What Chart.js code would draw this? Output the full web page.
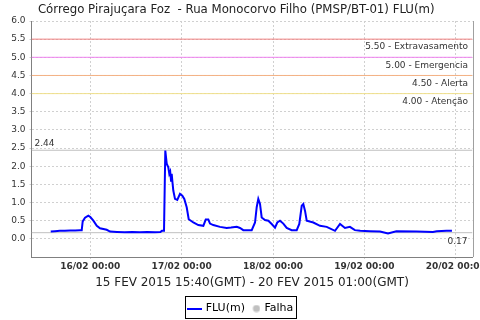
<!DOCTYPE html>
<html>
<head>
<meta charset="utf-8">
<script src="https://cdn.jsdelivr.net/npm/chart.js@4.4.1/dist/chart.umd.min.js"></script>
<style>
html,body{margin:0;padding:0;background:#fff;}
#wrap{width:480px;height:320px;position:relative;}
</style>
</head>
<body>
<div id="wrap"><canvas id="c" width="480" height="320"></canvas></div>
<script>
// ---- data (hours relative to 16/02/2015 00:00 GMT) ----
const titleText = 'Córrego Pirajuçara Foz  - Rua Monocorvo Filho (PMSP/BT-01) FLU(m)';
const rangeText = '15 FEV 2015 15:40(GMT) - 20 FEV 2015 01:00(GMT)';
const seriesName = 'FLU(m)';
const failName = 'Falha';

const hours = [-10.4,-9.3,-8.0,-6.7,-5.3,-4.0,-2.7,-2.26,-2.0,-1.39,-0.53,0.0,0.8,1.7,2.55,4.3,5.2,7.0,9.0,11.0,13.0,15.0,17.0,18.4,18.8,19.36,19.7,20.07,20.49,20.75,20.99,21.2,21.38,21.59,21.8,22.25,22.85,23.56,24.17,24.69,25.32,25.85,27.06,28.37,29.69,30.32,31.0,31.45,32.31,34.07,35.83,36.96,38.46,39.33,40.19,42.4,43.27,43.71,44.13,44.58,45.02,45.89,46.76,47.65,48.52,49.12,49.83,50.7,51.59,52.91,54.22,54.9,55.54,55.96,56.41,56.85,58.58,60.34,62.1,64.28,65.6,66.9,68.2,69.5,70.9,73.5,76.1,78.2,80.4,85.7,90.0,91.0,93.6,95.0];
const flu   = [0.20,0.21,0.22,0.22,0.23,0.23,0.24,0.24,0.48,0.58,0.64,0.60,0.50,0.36,0.29,0.25,0.20,0.19,0.18,0.19,0.18,0.19,0.18,0.19,0.22,0.22,2.43,2.07,1.97,1.79,1.85,1.60,1.79,1.55,1.33,1.10,1.07,1.24,1.19,1.10,0.87,0.54,0.45,0.38,0.36,0.53,0.53,0.42,0.38,0.33,0.30,0.31,0.33,0.30,0.24,0.24,0.45,0.87,1.10,0.96,0.59,0.52,0.50,0.41,0.31,0.45,0.50,0.42,0.30,0.24,0.24,0.41,0.91,0.96,0.77,0.50,0.45,0.36,0.33,0.22,0.41,0.30,0.33,0.24,0.22,0.21,0.20,0.15,0.21,0.20,0.19,0.21,0.22,0.22];

const xTickHours  = [0, 24, 48, 72, 96];
const xTickLabels = ['16/02 00:00','17/02 00:00','18/02 00:00','19/02 00:00','20/02 00:00'];
const yTickValues = [0,0.5,1,1.5,2,2.5,3,3.5,4,4.5,5,5.5,6];

const thresholdValues = [5.5, 5.0, 4.5, 4.0];
const thresholdLabels = ['5.50 - Extravasamento','5.00 - Emergencia','4.50 - Alerta','4.00 - Atenção'];
const maxValue  = 2.44;
const lastValue = 0.17;

// ---- styles ----
const thresholdColors = ['#f08080','#ee82ee','#f4b183','#f0e08c'];
const X_MIN = -15.45, X_MAX = 100.4, Y_MIN = -0.5, Y_MAX = 6.0;
const FONT = 'DejaVu Sans';

function hLine(v, color) {
  return { data: [{x: X_MIN, y: v}, {x: X_MAX, y: v}], borderColor: color, borderWidth: 1,
           pointRadius: 0, fill: false, order: 5 };
}

const datasets = [{
  label: seriesName,
  data: hours.map((h, i) => ({x: h, y: flu[i]})),
  borderColor: '#0000ff', backgroundColor: '#0000ff', borderWidth: 2,
  pointRadius: 0, tension: 0, order: 0
}];
thresholdValues.forEach((v, i) => datasets.push(hLine(v, thresholdColors[i])));
datasets.push(hLine(maxValue, '#c0c0c0'));
datasets.push(hLine(lastValue, '#c0c0c0'));

// legend images
function lineImg() {
  const c = document.createElement('canvas'); c.width = 15; c.height = 2;
  const g = c.getContext('2d'); g.fillStyle = '#0000ff'; g.fillRect(0, 0, 15, 2); return c;
}
function dotImg() {
  const c = document.createElement('canvas'); c.width = 14; c.height = 8;
  const g = c.getContext('2d'); g.fillStyle = '#c0c0c0'; g.beginPath(); g.arc(10, 4, 3.6, 0, Math.PI*2); g.fill(); return c;
}

const labelsPlugin = {
  id: 'refLabels',
  afterDatasetsDraw(chart) {
    const {ctx, chartArea: a, scales: {y}} = chart;
    ctx.save();
    ctx.font = '9px "' + FONT + '"';
    ctx.fillStyle = '#333';
    ctx.textBaseline = 'middle';
    ctx.textAlign = 'right';
    thresholdValues.forEach((v, i) => {
      ctx.fillText(thresholdLabels[i], a.right - 4.5, y.getPixelForValue(v) + 8);
    });
    ctx.fillText(lastValue.toFixed(2), a.right - 5, y.getPixelForValue(lastValue) + 9);
    ctx.textAlign = 'left';
    ctx.fillText(maxValue.toFixed(2), a.left + 3, y.getPixelForValue(maxValue) - 6.5);
    ctx.strokeStyle = '#a0a0a0'; ctx.lineWidth = 1;
    ctx.beginPath(); ctx.moveTo(Math.round(a.right) + 0.5, a.top); ctx.lineTo(Math.round(a.right) + 0.5, a.bottom); ctx.stroke();
    ctx.restore();
  },
  afterLayout(chart) {
    const l = chart.legend; l.top += 4; l.bottom += 4; l.left += 5; l.right += 5;
  },
  afterDraw(chart) {
    const l = chart.legend; const hb = l.legendHitBoxes;
    if (!hb || !hb.length) return;
    const ctx = chart.ctx;
    const left = Math.round(hb[0].left - 4) + 0.5;
    const right = Math.round(hb[hb.length - 1].left + hb[hb.length - 1].width + 3) + 0.5;
    const top = Math.round(hb[0].top - 7) + 0.5;
    ctx.save(); ctx.strokeStyle = '#000'; ctx.lineWidth = 1;
    ctx.strokeRect(left, top, right - left, 22);
    ctx.restore();
  }
};

new Chart(document.getElementById('c'), {
  type: 'line',
  data: { datasets },
  options: {
    responsive: false, animation: false, devicePixelRatio: 1,
    layout: { padding: { left: 0, right: 7.5, top: 0, bottom: 0 } },
    plugins: {
      title: { display: true, text: titleText, color: '#222',
               font: { family: FONT, size: 11.75, weight: 'normal' }, padding: { top: 3, bottom: 3.9 } },
      legend: {
        display: true, position: 'bottom',
        labels: {
          usePointStyle: true, padding: 3, color: '#222',
          font: { family: FONT, size: 11 },
          generateLabels: () => [
            { text: seriesName, pointStyle: lineImg(), fillStyle: '#0000ff', strokeStyle: '#0000ff', lineWidth: 0, datasetIndex: 0 },
            { text: failName, pointStyle: dotImg(), fillStyle: '#c0c0c0', strokeStyle: '#c0c0c0', lineWidth: 0, datasetIndex: 1 }
          ]
        }
      },
      tooltip: { enabled: false }
    },
    scales: {
      x: {
        type: 'linear', min: X_MIN, max: X_MAX,
        afterBuildTicks: s => { s.ticks = xTickHours.map(v => ({ value: v })); },
        afterFit: s => { s.height = 39; s.paddingLeft = 0; s.paddingRight = 0; },
        ticks: {
          autoSkip: false, maxRotation: 0, padding: 2, color: '#333',
          font: { family: FONT, size: 9, weight: 'bold' },
          callback: (v) => { const i = xTickHours.indexOf(v); return i >= 0 ? xTickLabels[i] : ''; }
        },
        grid: { color: '#d0d0d0', tickLength: 2, drawOnChartArea: true },
        border: { color: '#808080', width: 1, dash: [2, 2] },
        title: { display: true, text: rangeText, color: '#222',
                 font: { family: FONT, size: 12 }, padding: { top: 0, bottom: 5.5 } }
      },
      y: {
        type: 'linear', min: Y_MIN, max: Y_MAX,
        afterBuildTicks: s => { s.ticks = yTickValues.map(v => ({ value: v })); },
        afterFit: s => { s.width = 31.5; },
        ticks: {
          padding: 4, color: '#333', font: { family: FONT, size: 9 },
          callback: v => Number(v).toFixed(1)
        },
        grid: { color: '#d0d0d0', tickLength: 2 },
        border: { color: '#808080', width: 1, dash: [2, 2] }
      }
    }
  },
  plugins: [labelsPlugin]
});
</script>
</body>
</html>
